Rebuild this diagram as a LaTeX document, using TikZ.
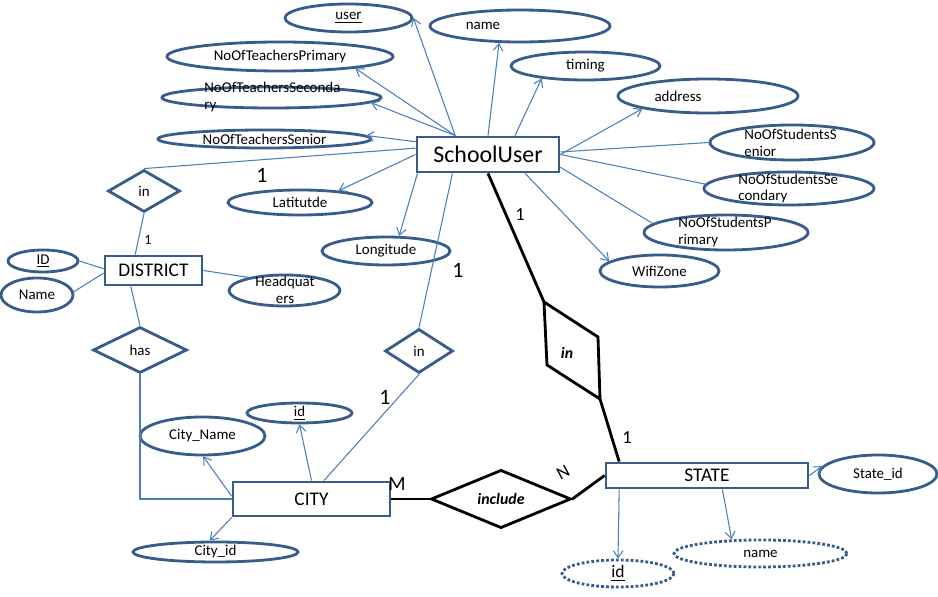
\documentclass[tikz,border=0pt]{standalone}
\usepackage{fontspec}
\setmainfont{Carlito}
\usetikzlibrary{shapes.geometric,arrows.meta}
\definecolor{erblue}{HTML}{385D8A}
\definecolor{lnblue}{HTML}{4A7EBB}

\begin{document}
\begin{tikzpicture}[x=0.02cm, y=-0.02cm, >={Straight Barb[length=4pt,width=5.5pt]},
  ent/.style={draw=erblue, line width=1.6pt, inner sep=0pt, font=\fontsize{11}{13}\selectfont},
  attr/.style={draw=erblue, line width=1.6pt, ellipse, inner sep=0pt, font=\fontsize{8.5}{10}\selectfont},
  dattr/.style={attr, dash pattern=on 1.6pt off 1.2pt},
  atxt/.style={inner sep=0pt, align=left, font=\fontsize{8.5}{9.6}\selectfont},
  rel/.style={draw=erblue, line width=1.6pt, diamond, inner sep=0pt, font=\fontsize{8.5}{10}\selectfont},
  brel/.style={draw=black, line width=1.6pt, diamond, inner sep=0pt, font=\fontsize{9}{11}\selectfont\bfseries\itshape},
  sz/.style 2 args={minimum width=#1*0.02cm, minimum height=#2*0.02cm},
  lnk/.style={draw=lnblue, line width=0.6pt},
  alnk/.style={lnk, ->},
  blnk/.style={draw=black, line width=1.6pt},
  card/.style={inner sep=0pt, font=\fontsize{10.5}{12}\selectfont},
  bigcard/.style={inner sep=0pt, font=\fontsize{12.5}{14}\selectfont}]
\useasboundingbox (0,0) rectangle (938,597);

%% Entities
\node[ent, sz={142}{35}, font=\fontsize{13.6}{16}\selectfont] (su) at (488,154.5) {SchoolUser};
\node[ent, sz={97}{29}] (dist) at (153.5,270.5) {DISTRICT};
\node[ent, sz={157}{34}] (city) at (311.5,499) {CITY};
\node[ent, sz={202}{25}] (state) at (707,475.5) {STATE};

%% SchoolUser attributes
\node[attr, sz={127}{28}] (user) at (348.5,18) {\underline{user}};
\node[attr, sz={180}{32}] (name) at (520,26) {};
\node[atxt] (name-t) at (483,26) {name};
\node[attr, sz={149}{28}] (timing) at (585.5,66) {timing};
\node[attr, sz={180}{34}] (addr) at (708,96) {};
\node[atxt] (addr-t) at (678,96) {address};
\node[attr, sz={164}{35}] (nss) at (792,142.5) {};
\node[atxt, anchor=west] (nss-t) at (744,143) {NoOfStudentsS\\enior};
\node[attr, sz={170}{33}] (nsc) at (789,188.5) {};
\node[atxt, anchor=west] (nsc-t) at (738,188.5) {NoOfStudentsSe\\condary};
\node[attr, sz={164}{35}] (nsp) at (726,232.5) {};
\node[atxt, anchor=west] (nsp-t) at (678,232) {NoOfStudentsP\\rimary};
\node[attr, sz={119}{32}] (wifi) at (659.5,271) {WifiZone};
\node[attr, sz={226}{29}] (ntp) at (280,56.5) {NoOfTeachersPrimary};
\node[attr, sz={219}{21}] (ntsec) at (271.5,97.5) {};
\node[atxt, anchor=west] (ntsec-t) at (204,97) {NoOfTeachersSeconda\\ry};
\node[attr, sz={213}{18}] (ntsen) at (264.5,139) {NoOfTeachersSenior};
\node[attr, sz={144}{25}] (lat) at (300,202.5) {Latitutde};
\node[attr, sz={128}{28}] (lon) at (386,251) {Longitude};

%% District attributes
\node[attr, sz={111}{31}] (hq) at (284.5,290.5) {};
\node[atxt, align=center] (hq-t) at (285,290) {Headquat\\ers};
\node[attr, sz={70}{22}] (idd) at (43,261) {\underline{ID}};
\node[attr, sz={72}{34}] (nm) at (37,295) {Name};

%% City attributes
\node[attr, sz={125}{38}] (cname) at (202.5,436) {City\_Name};
\node[attr, sz={105}{20}] (cid) at (299.5,413) {\underline{id}};
\node[attr, sz={165}{20}] (cityid) at (215.5,552) {City\_id};

%% State attributes
\node[attr, sz={118}{38}] (sid) at (878,474) {State\_id};
\node[dattr, sz={173}{27}] (sname) at (760.5,553.5) {name};
\node[dattr, sz={112}{27}, font=\fontsize{10}{12}\selectfont] (stid) at (618,573.5) {\underline{id}};

%% Relationships
\node[rel, sz={72}{42}] (din1) at (144,191) {in};
\node[rel, sz={94}{46}] (dhas) at (140,350) {has};
\node[rel, sz={68}{44}] (din2) at (419,351) {in};
\node[brel, sz={140}{46}] (dinc) at (501,499) {include};
\coordinate (inA) at (544,302);
\coordinate (inB) at (598,337);
\coordinate (inC) at (600,399);
\coordinate (inD) at (547,365);
\draw[blnk, line join=miter] (inA) -- (inB) -- (inC) -- (inD) -- cycle;
\node[inner sep=0pt, font=\fontsize{9}{11}\selectfont\bfseries\itshape] (din3) at (567,353) {in};

%% SchoolUser links
\draw[alnk] (su.150) -- (user.east);
\draw[alnk] (su.north) -- (name.219);
\draw[alnk] (su.35) -- (timing.196);
\draw[alnk] (su.east) -- (addr.191);
\draw[lnk] (su.2) -- (nss.west);
\draw[lnk] (su.east) -- (nsc.177);
\draw[lnk] (su.-10) -- (nsp.173);
\draw[alnk] (su.-27) -- (wifi.169);
\draw[alnk] (su.150) -- (ntp.-9);
\draw[alnk] (su.150) -- (ntsec.-3);
\draw[alnk] (su.170) -- (ntsen.2);
\draw[lnk] (su.175) -- (din1.north);
\draw[alnk] (su.west) -- (lat.17);
\draw[alnk] (su.195) -- (lon.49);
\draw[lnk] (su.208) -- (din2.north);

%% District links
\draw[lnk] (din1.south) -- (dist.139);
\draw[lnk] (dist.178) -- (idd.east);
\draw[lnk] (dist.183) -- (nm.5);
\draw[lnk] (dist.east) -- (hq.160);
\draw[lnk] (dist.215) -- (dhas.north);
\draw[lnk] (dhas.south) |- (city.west);

%% City links
\draw[alnk] (city.178) -- (cname.-88);
\draw[alnk] (city.north) -- (cid.south);
\draw[alnk] (city.193) -- (cityid.117);
\draw[lnk] (city.56) -- (din2.south);

%% State links
\draw[alnk] (state.east) -- (sid.172);
\draw[alnk] (state.-42) -- (sname.154);
\draw[alnk] (state.189.5) -- (stid.north);

%% Black relationship lines
\draw[blnk] (su.south) -- (inA);
\draw[blnk] (inC) -- (state.171.3);
\draw[blnk] (city.east) -- (dinc.west);
\draw[blnk] (dinc.east) -- (state.west);

%% Cardinalities
\node[bigcard] (c1) at (262,175) {1};
\node[bigcard] (c2) at (458,270) {1};
\node[bigcard] (c3) at (385,397) {1};
\node[inner sep=0pt, font=\fontsize{8}{10}\selectfont] (c4) at (148,240) {1};
\node[card] (c5) at (520,215) {1};
\node[card] (c6) at (627,438) {1};
\node[card, font=\fontsize{11.5}{13}\selectfont] (cm) at (397,484) {M};
\node[card, rotate=28] (cn) at (563,472) {N};
\end{tikzpicture}
\end{document}
